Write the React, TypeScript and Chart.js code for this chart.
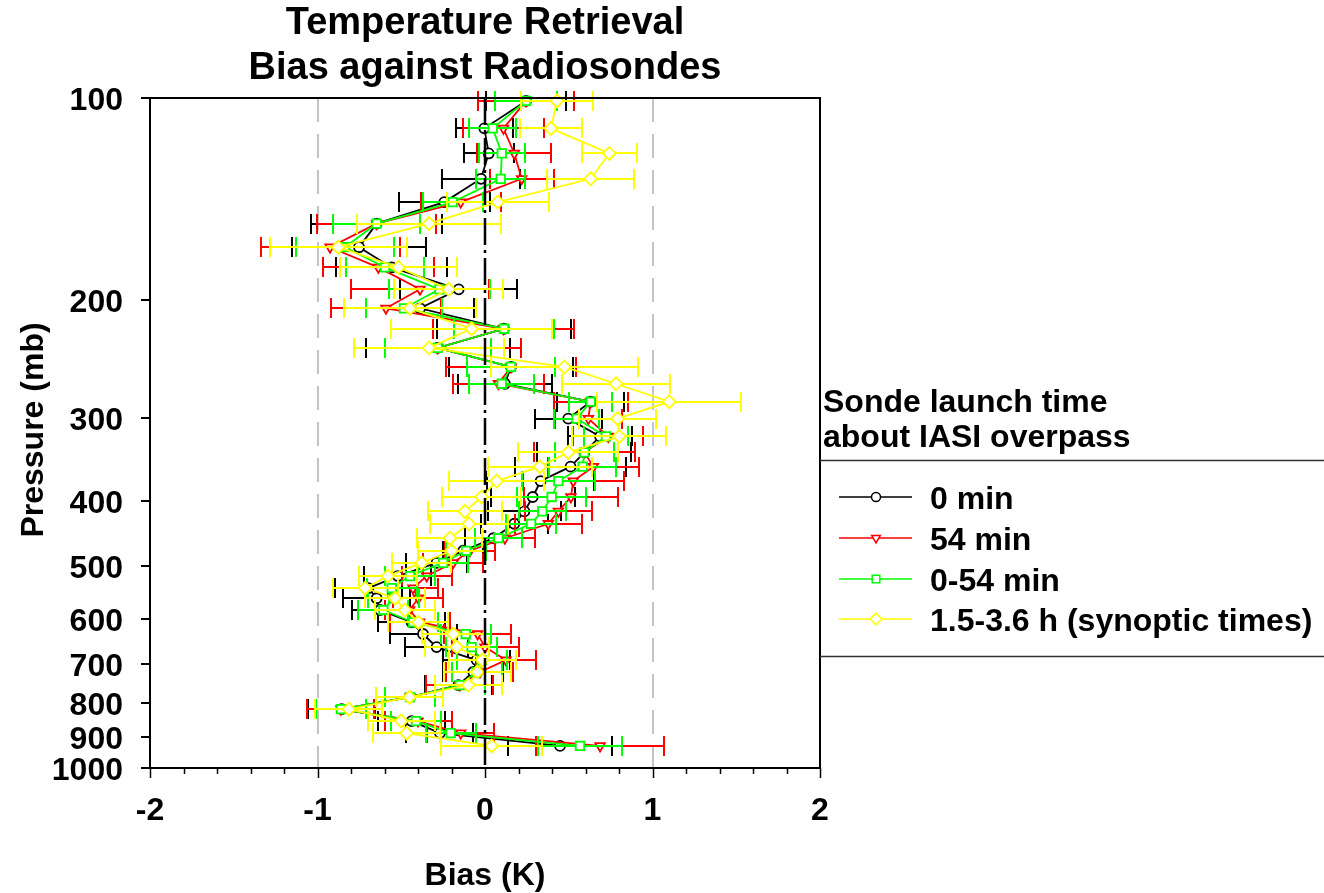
import React, { useEffect, useRef } from "react";
import { Chart, registerables } from "chart.js";

Chart.register(...registerables);

// ---------------- DATA ----------------
const pressureLevels = [101, 111, 121, 132, 143, 154, 167, 179, 193, 206, 221, 236, 252, 267, 284, 301, 320, 338, 355, 373, 394, 414, 432, 454, 474, 494, 517, 539, 558, 581, 606, 631, 660, 690, 719, 752, 784, 817, 851, 887, 927];

const bias0min = [0.245, -0.004, 0.022, -0.024, -0.243, -0.647, -0.752, -0.557, -0.157, -0.388, 0.113, -0.283, 0.155, 0.119, 0.631, 0.497, 0.687, 0.593, 0.511, 0.332, 0.285, 0.235, 0.175, 0.05, -0.13, -0.289, -0.52, -0.696, -0.647, -0.627, -0.438, -0.37, -0.289, -0.05, -0.07, -0.159, -0.448, -0.856, -0.438, -0.269, 0.448];
const err0min = [0.24, 0.17, 0.15, 0.23, 0.27, 0.39, 0.4, 0.33, 0.35, 0.32, 0.4, 0.43, 0.37, 0.28, 0.2, 0.2, 0.19, 0.28, 0.33, 0.32, 0.25, 0.22, 0.2, 0.17, 0.12, 0.18, 0.2, 0.2, 0.2, 0.17, 0.2, 0.2, 0.19, 0.2, 0.18, 0.2, 0.2, 0.2, 0.2, 0.2, 0.31];

const bias54min = [0.245, 0.11, 0.175, 0.219, -0.145, -0.647, -0.925, -0.637, -0.388, -0.591, 0.11, -0.283, 0.155, 0.08, 0.631, 0.617, 0.736, 0.593, 0.647, 0.527, 0.513, 0.438, 0.378, 0.119, -0.09, -0.19, -0.348, -0.43, -0.398, -0.45, -0.39, -0.044, 0.0, 0.125, -0.03, -0.15, -0.448, -0.86, -0.4, -0.145, 0.687];
const err54min = [0.285, 0.24, 0.22, 0.19, 0.24, 0.355, 0.415, 0.33, 0.41, 0.33, 0.42, 0.5, 0.39, 0.27, 0.22, 0.2, 0.21, 0.3, 0.27, 0.3, 0.28, 0.2, 0.2, 0.18, 0.15, 0.18, 0.15, 0.15, 0.15, 0.15, 0.18, 0.2, 0.2, 0.18, 0.2, 0.2, 0.2, 0.2, 0.2, 0.2, 0.38];

const bias0to54 = [0.245, 0.046, 0.1, 0.094, -0.193, -0.647, -0.836, -0.597, -0.272, -0.484, 0.113, -0.283, 0.155, 0.1, 0.631, 0.547, 0.722, 0.593, 0.583, 0.438, 0.398, 0.342, 0.275, 0.08, -0.113, -0.25, -0.448, -0.557, -0.547, -0.607, -0.43, -0.115, -0.08, -0.02, -0.05, -0.15, -0.448, -0.86, -0.412, -0.205, 0.567];
const err0to54 = [0.185, 0.142, 0.136, 0.145, 0.18, 0.26, 0.29, 0.23, 0.3, 0.225, 0.3, 0.316, 0.26, 0.195, 0.13, 0.134, 0.13, 0.175, 0.2, 0.22, 0.204, 0.14, 0.15, 0.14, 0.12, 0.15, 0.15, 0.15, 0.15, 0.15, 0.15, 0.15, 0.15, 0.15, 0.15, 0.15, 0.15, 0.15, 0.15, 0.15, 0.25];

const biasSynoptic = [0.43, 0.394, 0.742, 0.631, 0.076, -0.334, -0.876, -0.517, -0.217, -0.448, -0.08, -0.334, 0.474, 0.782, 1.1, 0.792, 0.802, 0.497, 0.328, 0.07, -0.02, -0.12, -0.096, -0.209, -0.2, -0.378, -0.58, -0.716, -0.537, -0.478, -0.398, -0.189, -0.169, -0.016, -0.046, -0.1, -0.45, -0.812, -0.5, -0.468, 0.04];
const errSynoptic = [0.217, 0.186, 0.164, 0.26, 0.305, 0.43, 0.41, 0.35, 0.325, 0.395, 0.48, 0.45, 0.44, 0.32, 0.43, 0.23, 0.28, 0.3, 0.31, 0.285, 0.237, 0.22, 0.233, 0.194, 0.2, 0.175, 0.175, 0.194, 0.18, 0.18, 0.18, 0.19, 0.19, 0.2, 0.2, 0.2, 0.2, 0.2, 0.2, 0.2, 0.3];

const seriesLabels = ["0 min", "54 min", "0-54 min", "1.5-3.6 h (synoptic times)"];
const titleLines = ["Temperature Retrieval", "Bias against Radiosondes"];
const legendTitleLines = ["Sonde launch time", "about IASI overpass"];
const xAxisTitle = "Bias (K)";
const yAxisTitle = "Pressure (mb)";
const xTickValues = [-2, -1, 0, 1, 2];
const yTickValues = [100, 200, 300, 400, 500, 600, 700, 800, 900, 1000];
const dashedGridValues = [-1, 1];

// ---------------- STYLE ----------------
const FONT = '"Liberation Sans", Arial, Helvetica, sans-serif';

function drawMarker(ctx: CanvasRenderingContext2D, style: string, x: number, y: number, r: number, rotation: number) {
  const rad = (rotation * Math.PI) / 180;
  ctx.beginPath();
  if (style === "circle") {
    ctx.arc(x, y, r, 0, Math.PI * 2);
  } else if (style === "triangle") {
    for (let k = 0; k < 3; k++) {
      const a = rad + (k * 2 * Math.PI) / 3;
      const px = x + Math.sin(a) * r;
      const py = y - Math.cos(a) * r;
      if (k === 0) ctx.moveTo(px, py);
      else ctx.lineTo(px, py);
    }
    ctx.closePath();
  } else if (style === "rect") {
    const s = Math.SQRT1_2 * r;
    ctx.rect(x - s, y - s, 2 * s, 2 * s);
  } else {
    ctx.moveTo(x, y - r);
    ctx.lineTo(x + r, y);
    ctx.lineTo(x, y + r);
    ctx.lineTo(x - r, y);
    ctx.closePath();
  }
  ctx.fillStyle = "#ffffff";
  ctx.fill();
  ctx.stroke();
}

const decorPlugin = {
  id: "decor",
  beforeDatasetsDraw(chart: any) {
    const { ctx, chartArea: a, scales } = chart;
    ctx.save();
    ctx.strokeStyle = "#c4c4c4";
    ctx.lineWidth = 2;
    ctx.setLineDash([24, 12]);
    for (const v of dashedGridValues) {
      const px = Math.round(scales.x.getPixelForValue(v));
      ctx.beginPath();
      ctx.moveTo(px, a.top);
      ctx.lineTo(px, a.bottom);
      ctx.stroke();
    }
    ctx.restore();
  },
  beforeDatasetDraw(chart: any, args: any) {
    const { ctx, scales } = chart;
    const ds = chart.data.datasets[args.index];
    const errs: number[] = ds.errors || [];
    ctx.save();
    ctx.strokeStyle = ds.borderColor;
    ctx.lineWidth = 2;
    ctx.setLineDash([]);
    ds.data.forEach((pt: any, i: number) => {
      const e = errs[i];
      if (e == null) return;
      const py = Math.round(scales.y.getPixelForValue(pt.y));
      const x1 = Math.round(scales.x.getPixelForValue(pt.x - e));
      const x2 = Math.round(scales.x.getPixelForValue(pt.x + e));
      ctx.beginPath();
      ctx.moveTo(x1, py);
      ctx.lineTo(x2, py);
      ctx.moveTo(x1, py - 10);
      ctx.lineTo(x1, py + 10);
      ctx.moveTo(x2, py - 10);
      ctx.lineTo(x2, py + 10);
      ctx.stroke();
    });
    ctx.restore();
  },
  afterDatasetsDraw(chart: any) {
    const { ctx, chartArea: a, scales } = chart;
    ctx.save();
    ctx.strokeStyle = "#000000";
    ctx.lineWidth = 2.5;
    ctx.setLineDash([27, 5, 3, 5]);
    const px = Math.round(scales.x.getPixelForValue(0));
    ctx.beginPath();
    ctx.moveTo(px, a.top);
    ctx.lineTo(px, a.bottom);
    ctx.stroke();
    ctx.restore();
  },
  afterDraw(chart: any) {
    const { ctx, chartArea: a, scales } = chart;
    const xs = scales.x;
    const ys = scales.y;
    ctx.save();
    ctx.setLineDash([]);
    ctx.strokeStyle = "#000000";
    ctx.lineWidth = 2;
    ctx.strokeRect(a.left, a.top, a.right - a.left, a.bottom - a.top);

    // y ticks & labels
    ctx.fillStyle = "#000000";
    ctx.font = `bold 32px ${FONT}`;
    ctx.textAlign = "right";
    ctx.textBaseline = "alphabetic";
    for (const v of yTickValues) {
      const py = Math.round(ys.getPixelForValue(v));
      ctx.beginPath();
      ctx.moveTo(a.left - 9, py);
      ctx.lineTo(a.left, py);
      ctx.stroke();
      ctx.fillText(String(v), a.left - 27, py + 11.5);
    }

    // x ticks (major + minor) & labels
    ctx.lineWidth = 1.5;
    for (let k = -10; k <= 10; k++) {
      const v = k / 5;
      const px = Math.round(xs.getPixelForValue(v)) + 0.5;
      const major = k % 5 === 0;
      ctx.beginPath();
      ctx.moveTo(px, a.bottom);
      ctx.lineTo(px, a.bottom + (major ? 10 : 6));
      ctx.stroke();
    }
    ctx.textAlign = "center";
    for (const v of xTickValues) {
      const px = xs.getPixelForValue(v);
      ctx.fillText(String(v), px, 820);
    }

    // axis titles
    const cx = (a.left + a.right) / 2;
    ctx.fillText(xAxisTitle, cx, 885);
    ctx.save();
    ctx.translate(43, 430);
    ctx.rotate(-Math.PI / 2);
    ctx.fillText(yAxisTitle, 0, 0);
    ctx.restore();

    // chart title
    ctx.font = `bold 38px ${FONT}`;
    ctx.fillText(titleLines[0], cx, 34);
    ctx.fillText(titleLines[1], cx, 79);

    // legend
    ctx.font = `bold 32px ${FONT}`;
    ctx.textAlign = "left";
    ctx.fillText(legendTitleLines[0], 823, 412);
    ctx.fillText(legendTitleLines[1], 823, 447);
    ctx.strokeStyle = "#333333";
    ctx.lineWidth = 1.5;
    ctx.beginPath();
    ctx.moveTo(a.right, 460.5);
    ctx.lineTo(chart.width, 460.5);
    ctx.moveTo(a.right, 656.5);
    ctx.lineTo(chart.width, 656.5);
    ctx.stroke();

    const rowY = [497, 538, 579, 619];
    chart.data.datasets.forEach((ds: any, i: number) => {
      const y = rowY[i];
      ctx.strokeStyle = ds.borderColor;
      ctx.lineWidth = 1.5;
      ctx.beginPath();
      ctx.moveTo(839, y);
      ctx.lineTo(912, y);
      ctx.stroke();
      drawMarker(ctx, ds.pointStyle, 876, y, ds.pointRadius * 0.9, ds.pointRotation || 0);
      ctx.fillStyle = "#000000";
      ctx.fillText(ds.label, 930, y + 12);
    });
    ctx.restore();
  },
};

function makeDataset(label: string, values: number[], errors: number[], color: string, pointStyle: string, radius: number, rotation: number, order: number) {
  return {
    label,
    data: pressureLevels.map((p, i) => ({ x: values[i], y: p })),
    errors,
    borderColor: color,
    backgroundColor: color,
    borderWidth: 1.8,
    showLine: true,
    pointStyle,
    pointRotation: rotation,
    pointRadius: radius,
    pointBorderWidth: 1.8,
    pointBorderColor: color,
    pointBackgroundColor: "#ffffff",
    order,
    clip: false,
  };
}

export default function App() {
  const ref = useRef<HTMLCanvasElement>(null);
  useEffect(() => {
    if (!ref.current) return;
    const chart = new Chart(ref.current, {
      type: "scatter",
      data: {
        datasets: [
          makeDataset(seriesLabels[0], bias0min, err0min, "#000000", "circle", 5, 0, 4),
          makeDataset(seriesLabels[1], bias54min, err54min, "#ff0000", "triangle", 5.5, 180, 3),
          makeDataset(seriesLabels[2], bias0to54, err0to54, "#00ff00", "rect", 6, 0, 2),
          makeDataset(seriesLabels[3], biasSynoptic, errSynoptic, "#ffff00", "rectRot", 6.5, 0, 1),
        ] as any,
      },
      options: {
        responsive: false,
        animation: false,
        devicePixelRatio: 1,
        layout: { padding: { left: 150, top: 98, right: 504, bottom: 125 } },
        plugins: {
          legend: { display: false },
          tooltip: { enabled: false },
          title: { display: false },
        },
        scales: {
          x: { type: "linear", min: -2, max: 2, display: false },
          y: { type: "logarithmic", min: 100, max: 1000, reverse: true, display: false },
        },
      } as any,
      plugins: [decorPlugin as any],
    });
    return () => chart.destroy();
  }, []);
  return (
    <div style={{ position: "absolute", left: 0, top: 0, width: 1324, height: 893, background: "#ffffff" }}>
      <canvas ref={ref} width={1324} height={893} style={{ display: "block" }} />
    </div>
  );
}
